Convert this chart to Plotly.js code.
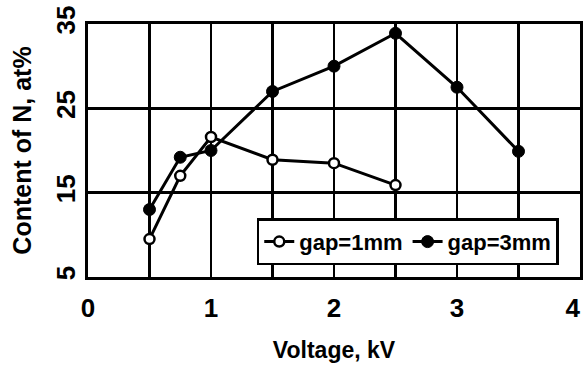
<!DOCTYPE html>
<html>
<head>
<meta charset="utf-8">
<script src="https://cdn.plot.ly/plotly-3.0.1.min.js"></script>
<style>html,body{margin:0;padding:0;background:#fff;}#chart{width:584px;height:366px;}</style>
</head>
<body>
<div id="chart"></div>
<script>
const voltage1 = [0.5, 0.75, 1.0, 1.5, 2.0, 2.5];
const gap1mm   = [9.5, 17.0, 21.6, 18.9, 18.5, 15.9];
const voltage3 = [0.5, 0.75, 1.0, 1.5, 2.0, 2.5, 3.0, 3.5];
const gap3mm   = [13.0, 19.2, 20.0, 27.0, 30.0, 33.9, 27.5, 19.9];
const seriesNames = ['gap=1mm', 'gap=3mm'];
const xTicks = [0, 1, 2, 3, 4];
const xTickText = ['0', '1', '2', '3', '4\u00a0\u00a0'];
const yTicks = [5, 15, 25, 35];

const FONT = 'Liberation Sans, Arial, sans-serif';

const traces = [
  {
    x: voltage1, y: gap1mm, name: seriesNames[0], type: 'scatter', mode: 'lines+markers',
    line: {color: '#000', width: 3},
    marker: {symbol: 'circle', size: 10, color: '#fff', line: {color: '#000', width: 2.5}}
  },
  {
    x: voltage3, y: gap3mm, name: seriesNames[1], type: 'scatter', mode: 'lines+markers',
    line: {color: '#000', width: 3},
    marker: {symbol: 'circle', size: 12, color: '#000', line: {color: '#000', width: 1}}
  }
];

const layout = {
  width: 584, height: 366,
  margin: {l: 88, r: 4, t: 24, b: 89},
  paper_bgcolor: '#fff', plot_bgcolor: '#fff',
  font: {family: FONT, color: '#000'},
  showlegend: true,
  legend: {
    orientation: 'h', x: 0.343, y: 0.232, xanchor: 'left', yanchor: 'top',
    bgcolor: '#fff', bordercolor: '#000', borderwidth: 2.5,
    font: {family: FONT, size: 22, color: '#000', weight: 'bold'},
    itemwidth: 30, tracegroupgap: 0
  },
  xaxis: {
    range: [0, 4], tickvals: xTicks, ticktext: xTickText,
    showgrid: true, gridcolor: '#000', gridwidth: 2.5,
    minor: {dtick: 0.5, showgrid: true, gridcolor: '#000', gridwidth: 2.5},
    showline: true, linecolor: '#000', linewidth: 3, mirror: true,
    zeroline: false, ticks: '', ticklabelstandoff: 6, ticklabeloverflow: 'allow',
    tickfont: {family: FONT, size: 26, weight: 'bold', color: '#000'},
    title: {text: 'Voltage, kV', font: {family: FONT, size: 23, weight: 'bold', color: '#000'}, standoff: 20},
    automargin: false
  },
  yaxis: {
    range: [5, 35], tickvals: yTicks, ticktext: yTicks.map(String),
    showgrid: true, gridcolor: '#000', gridwidth: 2.5,
    showline: true, linecolor: '#000', linewidth: 3, mirror: true,
    zeroline: false, ticks: '', tickangle: -90, ticklabelstandoff: 0,
    tickfont: {family: FONT, size: 26, weight: 'bold', color: '#000'},
    title: {text: 'Content of N, at%', font: {family: FONT, size: 25, weight: 'bold', color: '#000'}, standoff: 12},
    automargin: false
  }
};

Plotly.newPlot('chart', traces, layout, {displayModeBar: false, staticPlot: true});
</script>
</body>
</html>
